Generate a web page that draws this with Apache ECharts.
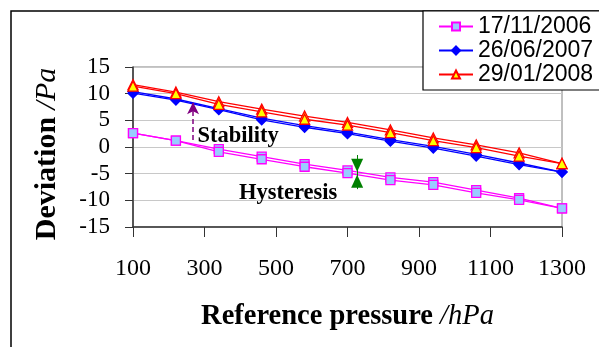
<!DOCTYPE html>
<html>
<head>
<meta charset="utf-8">
<script src="https://cdn.jsdelivr.net/npm/echarts@6/dist/echarts.min.js"></script>
<style>
  html, body { margin: 0; padding: 0; background: #fff; }
  #chart { width: 599px; height: 347px; }
</style>
</head>
<body>
<div id="chart"></div>
<script>
// pressures (hPa)
var pressures = [100, 220, 340, 460, 580, 700, 820, 940, 1060, 1180, 1300];
// 17/11/2006 - two sweeps
var nov2006Up   = [2.6, 1.2, -0.4, -1.8, -3.2, -4.4, -5.7, -6.6, -8.1, -9.6, -11.5];
var nov2006Down = [2.6, 1.2, -0.9, -2.3, -3.7, -4.9, -6.2, -7.1, -8.6, -9.9, -11.5];
// 26/06/2007
var jun2007Up   = [10.4, 9.0, 7.2, 5.4, 4.0, 2.8, 1.4, 0.1, -1.4, -3.0, -4.7];
var jun2007Down = [10.1, 8.8, 7.0, 5.1, 3.7, 2.5, 1.1, -0.2, -1.7, -3.3, -4.7];
// 29/01/2008
var jan2008Up   = [11.7, 10.3, 8.5, 7.1, 5.8, 4.6, 3.2, 1.7, 0.4, -1.1, -3.1];
var jan2008Down = [11.4, 10.0, 8.0, 6.6, 5.2, 4.1, 2.7, 1.2, -0.1, -1.7, -3.1];

var names = ['17/11/2006', '26/06/2007', '29/01/2008'];
var yTicks = [-15, -10, -5, 0, 5, 10, 15];

function pairs(ys) {
  var out = [];
  for (var i = 0; i < pressures.length; i++) {
    out.push([pressures[i], ys[i]]);
  }
  return out;
}

var serif = 'Liberation Serif';
var styles = [
  { symbol: 'rect', size: 9, line: '#ff00ff', fill: '#99ccff', border: '#ff00ff' },
  { symbol: 'diamond', size: 10, line: '#0000ff', fill: '#0000ff', border: '#0000ff' },
  { symbol: 'triangle', size: 10, line: '#ff0000', fill: '#ffff00', border: '#ff0000' }
];

function makeSeries(name, ys, st) {
  return {
    name: name,
    type: 'line',
    data: pairs(ys),
    symbol: st.symbol,
    symbolSize: st.size,
    showAllSymbol: true,
    lineStyle: { color: st.line, width: 1.3 },
    itemStyle: { color: st.fill, borderColor: st.border, borderWidth: 1.3 },
    emphasis: { disabled: true },
    animation: false
  };
}

var series = [
  makeSeries(names[0], nov2006Up, styles[0]),
  makeSeries(names[0], nov2006Down, styles[0]),
  makeSeries(names[1], jun2007Up, styles[1]),
  makeSeries(names[1], jun2007Down, styles[1]),
  makeSeries(names[2], jan2008Up, styles[2]),
  makeSeries(names[2], jan2008Down, styles[2])
];

// annotations
series[0].markLine = {
  silent: true,
  animation: false,
  label: { show: false },
  data: [
    [{ coord: [268, 1.3], symbol: 'none' },
     { coord: [268, 8.4], symbol: 'arrow', symbolSize: [9, 12],
       lineStyle: { color: '#800080', type: [5, 3], width: 1.5 }, itemStyle: { color: '#800080' } }],
    [{ coord: [727, -1.5], symbol: 'none' },
     { coord: [727, -7.9], symbol: 'none', lineStyle: { color: '#008000', type: 'solid', width: 1 } }]
  ],
  lineStyle: { color: '#800080', type: [5, 3], width: 1.5 }
};
series[0].markPoint = {
  silent: true,
  animation: false,
  data: [
    { coord: [394, 2.1], symbol: 'circle', symbolSize: 0,
      label: { show: true, formatter: 'Stability', position: 'inside', color: '#000',
               fontFamily: serif, fontWeight: 'bold', fontSize: 22.5 } },
    { coord: [534, -8.6], symbol: 'circle', symbolSize: 0,
      label: { show: true, formatter: 'Hysteresis', position: 'inside', color: '#000',
               fontFamily: serif, fontWeight: 'bold', fontSize: 22.5 } },
    { coord: [727, -3.4], symbol: 'triangle', symbolRotate: 180, symbolSize: [12, 13],
      itemStyle: { color: '#008000' }, label: { show: false } },
    { coord: [727, -6.4], symbol: 'triangle', symbolSize: [12, 13],
      itemStyle: { color: '#008000' }, label: { show: false } }
  ]
};

var option = {
  backgroundColor: '#fff',
  animation: false,
  grid: {
    left: 133, right: 37, top: 67, bottom: 120,
    show: true, borderColor: '#808080', borderWidth: 1
  },
  legend: {
    data: names,
    orient: 'vertical',
    left: 438,
    top: 15,
    padding: 0,
    itemWidth: 34,
    itemHeight: 10,
    itemGap: 1,
    z: 10,
    textStyle: { fontFamily: 'Liberation Sans', fontSize: 23, lineHeight: 23, color: '#000' }
  },
  xAxis: {
    type: 'value',
    min: 100, max: 1300, interval: 200,
    axisLine: { show: true, onZero: false, lineStyle: { color: '#333', width: 1.5 } },
    axisTick: { show: true, length: 10, lineStyle: { color: '#333' } },
    axisLabel: { margin: 30, fontFamily: serif, fontSize: 24, color: '#000',
                 formatter: function (v) { return String(v); } },
    splitLine: { show: false },
    name: '{b|Reference pressure}{i| /hPa}',
    nameLocation: 'middle',
    nameGap: 75,
    nameTextStyle: {
      rich: {
        b: { fontFamily: serif, fontWeight: 'bold', fontSize: 28.5, color: '#000' },
        i: { fontFamily: serif, fontStyle: 'italic', fontSize: 28.5, color: '#000' }
      }
    }
  },
  yAxis: {
    type: 'value',
    min: yTicks[0], max: yTicks[yTicks.length - 1], interval: 5,
    axisLine: { show: true, onZero: false, lineStyle: { color: '#333', width: 1.5 } },
    axisTick: { show: true, length: 8, lineStyle: { color: '#333' } },
    axisLabel: { margin: 23, fontFamily: serif, fontSize: 23, color: '#000' },
    splitLine: { show: true, lineStyle: { color: '#c8c8c8', width: 1 } }
  },
  graphic: [
    { type: 'rect', z: 1, silent: true,
      shape: { x: 11, y: 11, width: 700, height: 500 },
      style: { fill: 'none', stroke: '#000', lineWidth: 1.5 } },
    { type: 'rect', z: 5, silent: true,
      shape: { x: 423, y: 11, width: 200, height: 79 },
      style: { fill: '#fff', stroke: '#000', lineWidth: 1.2 } },
    // y-axis title
    { type: 'text', z: 5, silent: true,
      x: 47, y: 154, rotation: Math.PI / 2,
      style: {
        text: '{b|Deviation}{i| /Pa}',
        align: 'center', verticalAlign: 'middle',
        rich: {
          b: { fontFamily: serif, fontWeight: 'bold', fontSize: 30, fill: '#000' },
          i: { fontFamily: serif, fontStyle: 'italic', fontSize: 30, fill: '#000' }
        }
      } }
  ],
  series: series
};

var myChart = echarts.init(document.getElementById('chart'), null, { renderer: 'canvas' });
myChart.setOption(option);
</script>
</body>
</html>
